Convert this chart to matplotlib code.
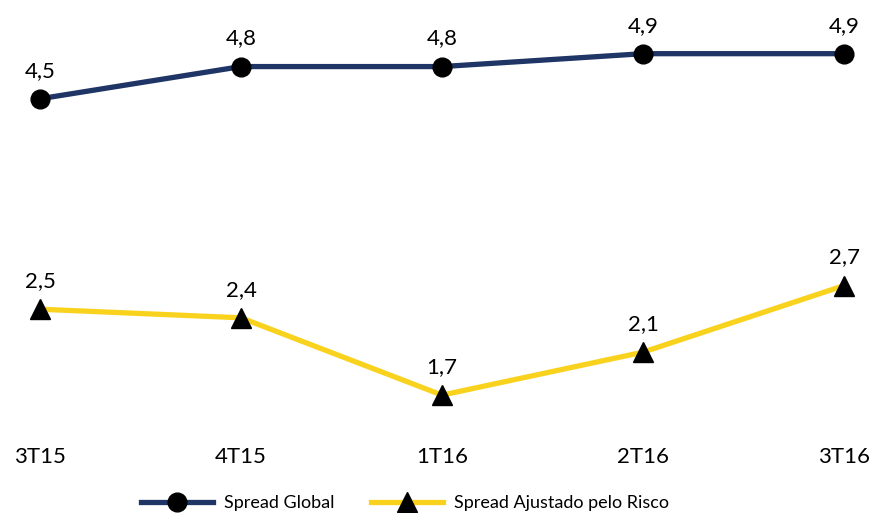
import matplotlib.pyplot as plt

# Dados
periodos = ["3T15", "4T15", "1T16", "2T16", "3T16"]
spread_global = [4.46, 4.76, 4.76, 4.88, 4.88]
spread_risco = [2.50, 2.42, 1.70, 2.10, 2.72]

AZUL = "#1f3566"
AMARELO = "#f9d21e"

plt.rcParams["font.family"] = ["Lato", "DejaVu Sans"]

fig = plt.figure(figsize=(8.73, 5.13), dpi=100)
ax = fig.add_axes([0, 0.162, 1, 0.838])

x = list(range(len(periodos)))
ax.plot(x, spread_global, color=AZUL, lw=3.8, marker="o", ms=13.5,
        mfc="black", mec="black", label="Spread Global", zorder=3)
ax.plot(x, spread_risco, color=AMARELO, lw=3.8, marker="^", ms=15,
        mfc="black", mec="black", label="Spread Ajustado pelo Risco", zorder=3)

# Rótulos dos valores
for xi, v in zip(x, spread_global):
    ax.annotate(f"{v:.1f}".replace(".", ","), (xi, v), xytext=(0, 13),
                textcoords="offset points", ha="center", va="bottom", fontsize=16)
for xi, v in zip(x, spread_risco):
    ax.annotate(f"{v:.1f}".replace(".", ","), (xi, v), xytext=(0, 13),
                textcoords="offset points", ha="center", va="bottom", fontsize=16)

ax.set_xlim(-0.199, 4.144)
ax.set_ylim(1.376, 5.38)
ax.set_xticks(x)
ax.set_xticklabels(periodos, fontsize=16)
ax.tick_params(axis="x", length=0, pad=12)
ax.set_yticks([])
for s in ax.spines.values():
    s.set_visible(False)

fig.legend(loc="center", bbox_to_anchor=(0.464, 1 - 503 / 513), ncol=2,
           frameon=False, fontsize=13, handlelength=4.0, handletextpad=0.6,
           columnspacing=2.0)

plt.savefig("out.png", dpi=100)
plt.close()
